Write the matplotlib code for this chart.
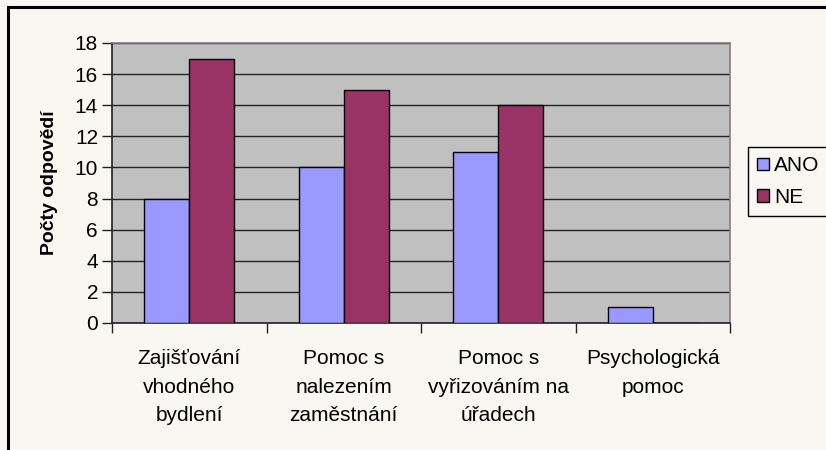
import matplotlib
matplotlib.use("Agg")
import matplotlib.pyplot as plt
from matplotlib.patches import Rectangle, Patch
import numpy as np

categories = ["Zajišťování\nvhodného\nbydlení", "Pomoc s\nnalezením\nzaměstnání",
              "Pomoc s\nvyřizováním na\núřadech", "Psychologická\npomoc"]
series_names = ["ANO", "NE"]
ano = [8, 10, 11, 1]
ne = [17, 15, 14, 0]
yticks = [0, 2, 4, 6, 8, 10, 12, 14, 16, 18]
ylabel = "Počty odpovědí"

plt.rcParams['font.family'] = ['Liberation Sans', 'DejaVu Sans']

W, H = 826, 450
bg = "#f8f7f2"
fig = plt.figure(figsize=(W / 100, H / 100), dpi=100, facecolor=bg)

# outer border
fig.patches.append(Rectangle((8 / W, -0.05), 1.2, (H - 7) / H + 0.05,
                             transform=fig.transFigure, fill=False,
                             edgecolor="black", linewidth=2.2, zorder=0))

left, right, top, bottom = 112, 730, 43, 323
ax = fig.add_axes([left / W, (H - bottom) / H, (right - left) / W, (bottom - top) / H])
ax.set_facecolor("#c0c0c0")

x = np.arange(len(categories))
bw = 0.29
ax.bar(x - bw / 2, ano, bw, color="#9999ff", edgecolor="black", linewidth=1.0, zorder=3)
ax.bar(x + bw / 2, ne, bw, color="#993366", edgecolor="black", linewidth=1.0, zorder=3)

ax.set_xlim(-0.5, len(categories) - 0.5)
ax.set_ylim(0, 18)
ax.set_yticks(yticks)
ax.set_yticklabels([str(v) for v in yticks], fontsize=15)
ax.yaxis.grid(True, color="#222222", linewidth=1.0, zorder=1)
ax.set_axisbelow(True)

ax.set_xticks(np.arange(-0.5, len(categories), 1.0))
ax.set_xticklabels([])
ax.set_xticks(x, minor=True)
ax.set_xticklabels(categories, minor=True, fontsize=15, linespacing=1.62)
ax.tick_params(axis="x", which="minor", length=0, pad=19)
ax.tick_params(axis="x", which="major", length=7, width=1, direction="out", color="#222222")
ax.tick_params(axis="y", length=7, width=1, direction="out", color="#222222", pad=3)

for s in ["top", "right"]:
    ax.spines[s].set_color("#808080")
    ax.spines[s].set_linewidth(1.2)
for s in ["left", "bottom"]:
    ax.spines[s].set_color("#222222")
    ax.spines[s].set_linewidth(1.2)

ax.set_ylabel(ylabel, fontsize=14, fontweight="bold", labelpad=12)

handles = [Patch(facecolor="#9999ff", edgecolor="black", linewidth=1.0),
           Patch(facecolor="#993366", edgecolor="black", linewidth=1.0)]
leg = fig.legend(handles, series_names, loc="upper left",
                 bbox_to_anchor=(748 / W, 1 - 147 / H), fontsize=15,
                 frameon=True, fancybox=False, edgecolor="black",
                 facecolor=bg, framealpha=1, handlelength=0.55, handleheight=0.55,
                 handletextpad=0.25, borderpad=0.45, labelspacing=0.6,
                 borderaxespad=0)
leg.get_frame().set_linewidth(1.0)

fig.savefig("out.png", dpi=100, facecolor=bg)
